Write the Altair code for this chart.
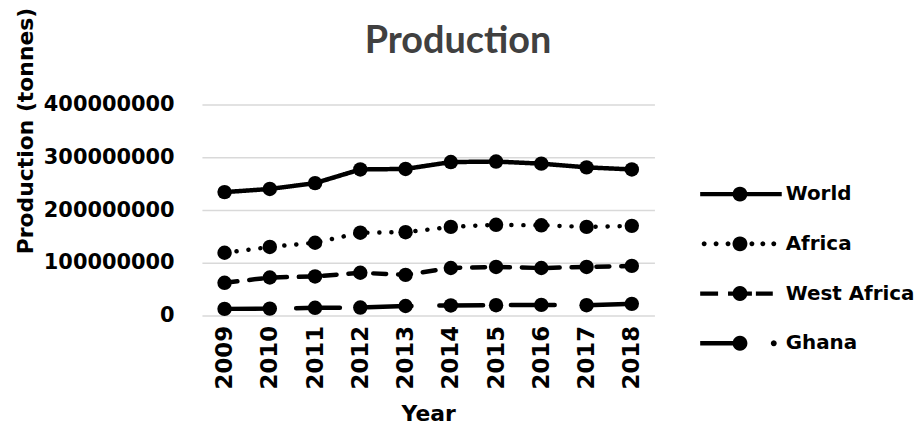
import math
import altair as alt
import pandas as pd

years = ["2009", "2010", "2011", "2012", "2013", "2014", "2015", "2016", "2017", "2018"]
series = ["World", "Africa", "West Africa", "Ghana"]
world = [234e6, 240e6, 251e6, 277e6, 278e6, 291e6, 292e6, 288e6, 281e6, 277e6]
africa = [119e6, 130e6, 138e6, 157e6, 158e6, 168e6, 172e6, 171e6, 168e6, 170e6]
west_africa = [62e6, 72e6, 74e6, 81e6, 77e6, 90e6, 92e6, 90e6, 92e6, 94e6]
ghana = [12.5e6, 13e6, 14.5e6, 15e6, 18e6, 19e6, 19.5e6, 20e6, 19.5e6, 22e6]
y_ticks = [0, 100000000, 200000000, 300000000, 400000000]

values = {"World": world, "Africa": africa, "West Africa": west_africa, "Ghana": ghana}
rows = []
for s in series:
    for yr, v in zip(years, values[s]):
        rows.append({"Year": yr, "Series": s, "Production": v})
df = pd.DataFrame(rows)

FONT = "DejaVu Sans"

# legend symbols: line pattern + marker, drawn as filled paths
BOX = 48          # legend symbol box (px)
U = BOX / 2.0     # px per path unit
def rect(x1, x2, h=2.2):
    a, b, c = x1 / U, x2 / U, h / U
    return f"M{a:.4f},{-c:.4f}L{b:.4f},{-c:.4f}L{b:.4f},{c:.4f}L{a:.4f},{c:.4f}Z"
def circ(cx, r, n=24):
    pts = []
    for i in range(n):
        t = 2 * math.pi * i / n
        pts.append(f"{(cx + r * math.cos(t)) / U:.4f},{(r * math.sin(t)) / U:.4f}")
    return "M" + "L".join(pts) + "Z"
R = 7.5
sym_world = rect(-40, 42) + circ(0, R)
sym_africa = "".join(circ(x, 2.5, 12) for x in [-36, -24, -12, 12, 23, 34]) + circ(0, R)
sym_west = rect(-40, -22) + rect(-12, 12) + rect(16, 33) + circ(0, R)
sym_ghana = rect(-40, 0) + circ(0, R) + circ(34, 3, 12)
legend_shapes = [sym_world, sym_africa, sym_west, sym_ghana]

dashes = [[1, 0], [0.1, 12], [13, 12], [44, 28]]

def make_legend():
    return alt.Legend(title=None, orient="none", legendX=517, legendY=66,
                      symbolSize=BOX * BOX, symbolStrokeWidth=0,
                      symbolFillColor="black", symbolOpacity=1,
                      labelFont=FONT, labelFontSize=20, labelFontWeight="bold",
                      labelColor="black", labelOffset=22, rowPadding=16,
                      labelLimit=300)

x_enc = alt.X("Year:O", sort=years,
              axis=alt.Axis(title="Year", labelAngle=-90, labelPadding=10, ticks=False,
                            domain=False, grid=False, labelFont=FONT, labelFontSize=23,
                            labelFontWeight="bold", labelColor="black",
                            titleFont=FONT, titleFontSize=22, titleFontWeight="bold",
                            titleColor="black", titleY=99, titleBaseline="middle"))
y_enc = alt.Y("Production:Q",
              scale=alt.Scale(domain=[0, 400000000], nice=False),
              axis=alt.Axis(title="Production (tonnes)", values=y_ticks, format="d",
                            ticks=False, domain=False, labelPadding=28,
                            labelFont=FONT, labelFontSize=21, labelFontWeight="bold",
                            labelColor="black", gridColor="#d9d9d9", gridWidth=1.5,
                            titleFont=FONT, titleFontSize=22, titleFontWeight="bold",
                            titleColor="black", titleX=-177, titleY=26,
                            titleAngle=-90, titleAlign="center", titleBaseline="middle"))

base = alt.Chart(df)

lines = base.mark_line(color="black", strokeWidth=4.5, strokeCap="round").encode(
    x=x_enc, y=y_enc,
    detail="Series:N",
    strokeDash=alt.StrokeDash("Series:N", scale=alt.Scale(domain=series, range=dashes),
                              legend=make_legend()),
)

points = base.mark_point(filled=True, color="black", size=210, opacity=1).encode(
    x=x_enc, y=y_enc, detail="Series:N",
)

legend_layer = base.mark_point(filled=True, color="black", opacity=0).encode(
    x=x_enc, y=y_enc,
    shape=alt.Shape("Series:N", scale=alt.Scale(domain=series, range=legend_shapes),
                    legend=make_legend()),
)

chart = alt.layer(lines, points, legend_layer).properties(
    width=455, height=212,
    title=alt.Title("Production", font="Lato", fontSize=38, fontWeight="bold",
                    color="#404040", anchor="middle", dx=30, offset=-84,
                    baseline="alphabetic"),
    autosize=alt.AutoSizeParams(type="none"),
    padding={"left": 195, "top": 96, "right": 262, "bottom": 111},
    background="white",
).configure_view(strokeWidth=0)

chart.save("out.html", embed_options={"renderer": "svg", "actions": False})
